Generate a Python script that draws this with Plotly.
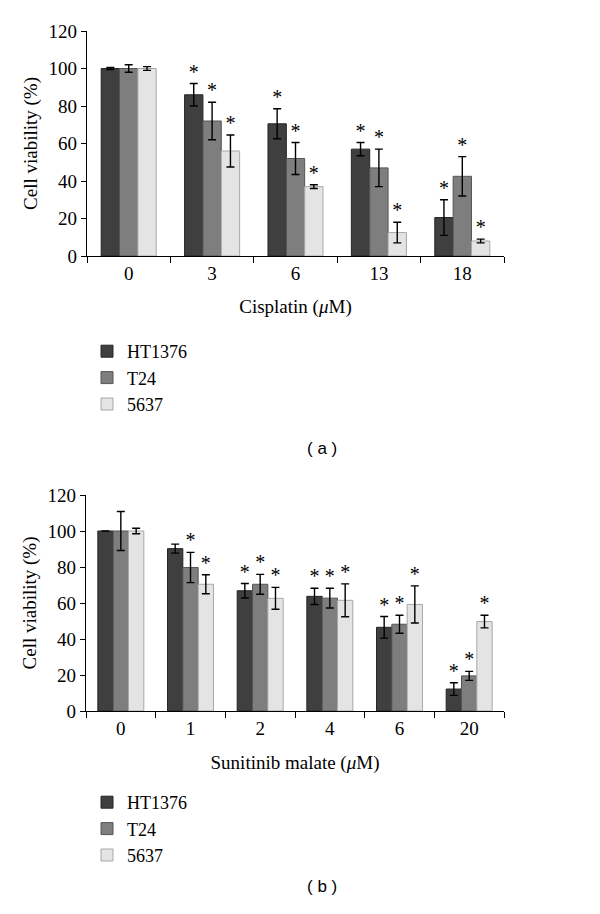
import plotly.graph_objects as go

# ---- Data: panel (a) Cisplatin ----
cis_doses = ["0", "3", "6", "13", "18"]
cis_ht1376 = [100, 86, 70.5, 57, 20.5]
cis_ht1376_err = [0.5, 6, 8, 3.5, 9.5]
cis_t24 = [100, 72, 52, 47, 42.5]
cis_t24_err = [2, 10, 8.5, 10, 10.5]
cis_5637 = [100, 56, 37, 12.5, 8]
cis_5637_err = [1, 8.5, 1, 5.5, 1]
cis_sig_ht1376 = ["", "*", "*", "*", "*"]
cis_sig_t24 = ["", "*", "*", "*", "*"]
cis_sig_5637 = ["", "*", "*", "*", "*"]

# ---- Data: panel (b) Sunitinib malate ----
sun_doses = ["0", "1", "2", "4", "6", "20"]
sun_ht1376 = [100, 90.2, 66.8, 63.7, 46.5, 12.2]
sun_ht1376_err = [0, 2.5, 4, 4.5, 6, 3.5]
sun_t24 = [100, 79.7, 70.4, 62.7, 48.2, 19.5]
sun_t24_err = [10.8, 8.4, 5.5, 5.5, 5, 2.5]
sun_5637 = [100, 70.4, 62.6, 61.5, 59.2, 49.7]
sun_5637_err = [1.5, 5.3, 6.1, 9.1, 10.3, 3.5]
sun_sig_ht1376 = ["", "", "*", "*", "*", "*"]
sun_sig_t24 = ["", "*", "*", "*", "*", "*"]
sun_sig_5637 = ["", "*", "*", "*", "*", "*"]

series_names = ["HT1376", "T24", "5637"]
fills = ["#3f3f3f", "#7e7e7e", "#e4e4e4"]
edges = ["#262626", "#555555", "#a8a8a8"]

SERIF = "Liberation Serif"

fig = go.Figure()

panels = [
    (cis_doses, [cis_ht1376, cis_t24, cis_5637],
     [cis_ht1376_err, cis_t24_err, cis_5637_err],
     [cis_sig_ht1376, cis_sig_t24, cis_sig_5637], "x", "y", "legend"),
    (sun_doses, [sun_ht1376, sun_t24, sun_5637],
     [sun_ht1376_err, sun_t24_err, sun_5637_err],
     [sun_sig_ht1376, sun_sig_t24, sun_sig_5637], "x2", "y2", "legend2"),
]

for doses, vals, errs, sigs, xa, ya, lg in panels:
    for i, name in enumerate(series_names):
        fig.add_trace(go.Bar(
            x=doses, y=vals[i], name=name, xaxis=xa, yaxis=ya,
            offsetgroup=name, legend=lg,
            marker=dict(color=fills[i], line=dict(color=edges[i], width=1)),
            error_y=dict(type="data", array=errs[i], visible=True,
                         color="black", thickness=1.4, width=4),
        ))
    for i, name in enumerate(series_names):
        tops = [v + e for v, e in zip(vals[i], errs[i])]
        fig.add_trace(go.Scatter(
            x=doses, y=tops, mode="text", text=sigs[i],
            textposition="top center", offsetgroup=name,
            marker=dict(size=0),
            xaxis=xa, yaxis=ya, showlegend=False, hoverinfo="skip",
            textfont=dict(family=SERIF, size=20, color="black"),
            cliponaxis=False,
        ))

# The page body adds an 8px margin, so the figure is drawn 8px in from the
# window corner; layout positions below are expressed in window pixels.
OFF = 8
W, H = 592, 906


def px_x(v):
    return (v - OFF) / W


def px_y(v):
    return 1 - (v - OFF) / H


axis_common = dict(
    showline=True, linecolor="black", linewidth=1.3,
    ticks="outside", tickcolor="black", tickwidth=1.3,
    showgrid=False, zeroline=False, automargin=False,
    tickfont=dict(family=SERIF, size=19, color="black"),
)
title_font = dict(family=SERIF, size=19, color="black")
legend_font = dict(family=SERIF, size=18, color="black")

fig.update_layout(
    width=W, height=H,
    margin=dict(l=0, r=0, t=0, b=0, autoexpand=False),
    paper_bgcolor="white", plot_bgcolor="white",
    barmode="group", bargap=0.34, bargroupgap=0.0,
    scattermode="group", scattergap=0.34,
    font=dict(family=SERIF, size=19, color="black"),
    xaxis=dict(domain=[px_x(87), px_x(504)], anchor="y", ticklen=6,
               tickson="boundaries",
               title=dict(text="Cisplatin (<i>μ</i>M)", standoff=16,
                          font=title_font),
               **axis_common),
    yaxis=dict(domain=[px_y(256), px_y(31)], anchor="x",
               range=[0, 120], dtick=20, ticklen=5,
               title=dict(text="Cell viability (%)", standoff=5,
                          font=title_font),
               **axis_common),
    xaxis2=dict(domain=[px_x(86), px_x(504)], anchor="y2", ticklen=6,
                tickson="boundaries",
                title=dict(text="Sunitinib malate (<i>μ</i>M)", standoff=17,
                           font=title_font),
                **axis_common),
    yaxis2=dict(domain=[px_y(711), px_y(495)], anchor="x2",
                range=[0, 120], dtick=20, ticklen=5,
                title=dict(text="Cell viability (%)", standoff=5,
                           font=title_font),
                **axis_common),
    legend=dict(x=px_x(87), y=px_y(333), xanchor="left", yanchor="top",
                font=legend_font, bgcolor="rgba(0,0,0,0)",
                tracegroupgap=0, itemwidth=30),
    legend2=dict(x=px_x(87), y=px_y(784), xanchor="left", yanchor="top",
                 font=legend_font, bgcolor="rgba(0,0,0,0)",
                 tracegroupgap=0, itemwidth=30),
    annotations=[
        dict(text="( a )", x=px_x(322), y=px_y(448), xref="paper", yref="paper",
             showarrow=False, font=dict(family="Liberation Sans", size=17, color="black")),
        dict(text="( b )", x=px_x(322), y=px_y(898), xref="paper", yref="paper",
             showarrow=False, font=dict(family="Liberation Sans", size=17, color="black")),
    ],
)

fig.write_html("out.html")
